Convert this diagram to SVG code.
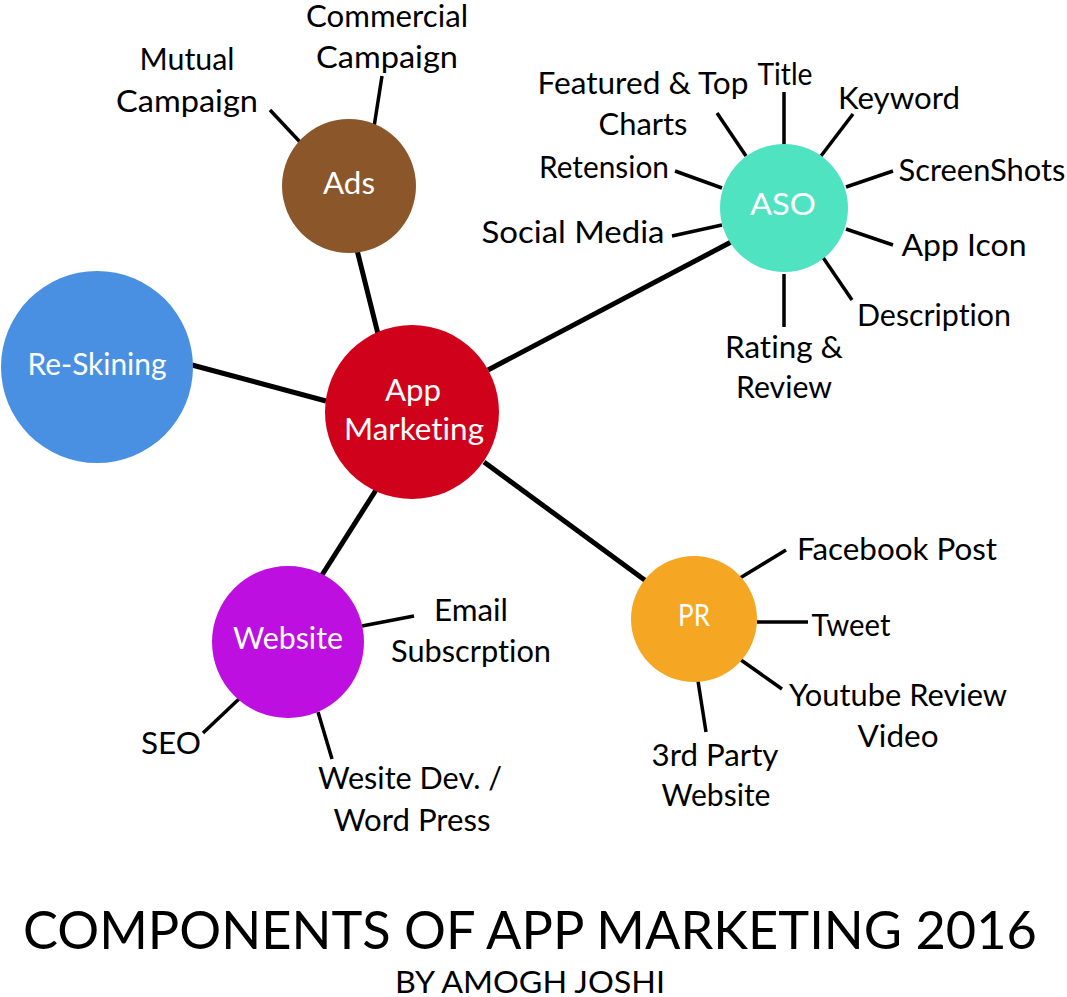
<svg xmlns="http://www.w3.org/2000/svg" width="1067" height="997" viewBox="0 0 1067 997">
<style>
text{font-family:"Lato","Noto Sans",sans-serif;text-anchor:middle;fill:#000;font-size:31px;font-variant-ligatures:none}
.w{fill:#fff}
.t{font-size:52px}
#connectors line{stroke:#000;stroke-width:3.5}
#connectors line.m{stroke-width:5}
</style>
<rect width="1067" height="997" fill="#fff"/>
<g id="connectors">
<line class="m" x1="357" y1="250" x2="378" y2="334"/>
<line class="m" x1="192" y1="365" x2="326" y2="401"/>
<line class="m" x1="488" y1="370" x2="733" y2="241"/>
<line class="m" x1="484" y1="462" x2="646" y2="581"/>
<line class="m" x1="376" y1="490" x2="322" y2="575"/>
<line x1="300" y1="142" x2="270" y2="110"/>
<line x1="374" y1="127" x2="382" y2="76"/>
<line x1="746" y1="156" x2="717" y2="113"/>
<line x1="784" y1="145" x2="784" y2="92"/>
<line x1="821" y1="156" x2="853" y2="114"/>
<line x1="846" y1="187" x2="893" y2="171"/>
<line x1="846" y1="229" x2="893" y2="245"/>
<line x1="822" y1="256" x2="852" y2="300"/>
<line x1="784" y1="274" x2="784" y2="327"/>
<line x1="722" y1="188" x2="675" y2="171"/>
<line x1="722" y1="225" x2="672" y2="236"/>
<line x1="740" y1="578" x2="786" y2="550"/>
<line x1="757" y1="622" x2="808" y2="622"/>
<line x1="741" y1="660" x2="782" y2="689"/>
<line x1="698" y1="681" x2="706" y2="732"/>
<line x1="362" y1="626" x2="414" y2="616"/>
<line x1="240" y1="698" x2="203" y2="733"/>
<line x1="318" y1="712" x2="332" y2="759"/>
</g>
<g id="app-marketing"><circle cx="412" cy="412" r="87" fill="#d0021b"/><text class="w" x="413" y="401" textLength="56" lengthAdjust="spacingAndGlyphs">App</text><text class="w" x="414" y="440" textLength="140" lengthAdjust="spacingAndGlyphs">Marketing</text></g>
<g id="ads"><circle cx="349" cy="186" r="67" fill="#8b572a"/><text class="w" x="349" y="194" textLength="52" lengthAdjust="spacingAndGlyphs">Ads</text></g>
<g id="re-skining"><circle cx="97" cy="367" r="96" fill="#4a90e2"/><text class="w" x="97" y="375" textLength="139" lengthAdjust="spacingAndGlyphs">Re-Skining</text></g>
<g id="aso"><circle cx="784" cy="208" r="64" fill="#50e3c2"/><text class="w" x="783" y="215" textLength="66" lengthAdjust="spacingAndGlyphs">ASO</text></g>
<g id="pr"><circle cx="694" cy="619" r="63" fill="#f5a623"/><text class="w" x="694" y="626" textLength="32" lengthAdjust="spacingAndGlyphs">PR</text></g>
<g id="website"><circle cx="288" cy="642" r="76" fill="#bd10e0"/><text class="w" x="288" y="649" textLength="110" lengthAdjust="spacingAndGlyphs">Website</text></g>
<g id="labels">
<text x="187" y="70" textLength="95" lengthAdjust="spacingAndGlyphs">Mutual</text><text x="187" y="112" textLength="142" lengthAdjust="spacingAndGlyphs">Campaign</text>
<text x="387" y="27" textLength="162" lengthAdjust="spacingAndGlyphs">Commercial</text><text x="387" y="68" textLength="142" lengthAdjust="spacingAndGlyphs">Campaign</text>
<text x="643" y="94" textLength="211" lengthAdjust="spacingAndGlyphs">Featured &amp; Top</text><text x="643" y="135" textLength="89" lengthAdjust="spacingAndGlyphs">Charts</text>
<text x="785" y="85" textLength="55" lengthAdjust="spacingAndGlyphs">Title</text>
<text x="899" y="109" textLength="122" lengthAdjust="spacingAndGlyphs">Keyword</text>
<text x="982" y="181" textLength="167" lengthAdjust="spacingAndGlyphs">ScreenShots</text>
<text x="964" y="256" textLength="125" lengthAdjust="spacingAndGlyphs">App Icon</text>
<text x="934" y="326" textLength="154" lengthAdjust="spacingAndGlyphs">Description</text>
<text x="784" y="358" textLength="118" lengthAdjust="spacingAndGlyphs">Rating &amp;</text><text x="784" y="398" textLength="96" lengthAdjust="spacingAndGlyphs">Review</text>
<text x="604" y="178" textLength="130" lengthAdjust="spacingAndGlyphs">Retension</text>
<text x="573" y="243" textLength="183" lengthAdjust="spacingAndGlyphs">Social Media</text>
<text x="897" y="560" textLength="200" lengthAdjust="spacingAndGlyphs">Facebook Post</text>
<text x="851" y="636" textLength="79" lengthAdjust="spacingAndGlyphs">Tweet</text>
<text x="898" y="706" textLength="218" lengthAdjust="spacingAndGlyphs">Youtube Review</text><text x="898" y="747" textLength="81" lengthAdjust="spacingAndGlyphs">Video</text>
<text x="715" y="766" textLength="127" lengthAdjust="spacingAndGlyphs">3rd Party</text><text x="716" y="806" textLength="109" lengthAdjust="spacingAndGlyphs">Website</text>
<text x="471" y="621" textLength="74" lengthAdjust="spacingAndGlyphs">Email</text><text x="471" y="662" textLength="160" lengthAdjust="spacingAndGlyphs">Subscrption</text>
<text x="171" y="754" textLength="60" lengthAdjust="spacingAndGlyphs">SEO</text>
<text x="410" y="789" textLength="184" lengthAdjust="spacingAndGlyphs">Wesite Dev. /</text><text x="412" y="831" textLength="157" lengthAdjust="spacingAndGlyphs">Word Press</text>
<text class="t" x="530" y="949" textLength="1014" lengthAdjust="spacingAndGlyphs">COMPONENTS OF APP MARKETING 2016</text>
<text x="530" y="993" textLength="270" lengthAdjust="spacingAndGlyphs">BY AMOGH JOSHI</text>
</g>
</svg>
